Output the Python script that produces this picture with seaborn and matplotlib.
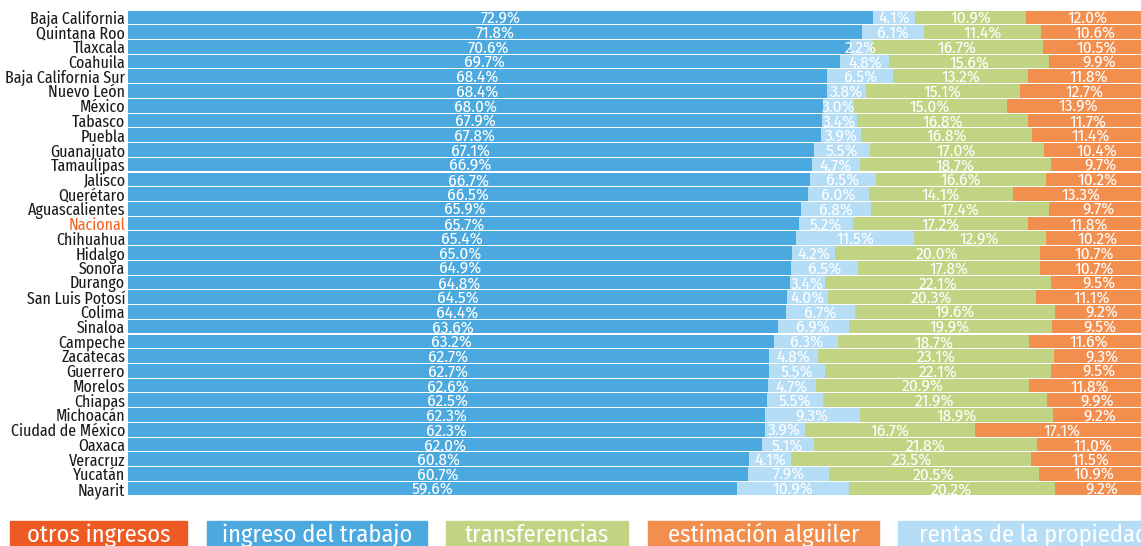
import matplotlib
matplotlib.use("Agg")
import matplotlib.pyplot as plt
import pandas as pd
import seaborn as sns
from matplotlib.patches import Rectangle

# 1. Data
states = ['Baja California', 'Quintana Roo', 'Tlaxcala', 'Coahuila', 'Baja California Sur',
          'Nuevo León', 'México', 'Tabasco', 'Puebla', 'Guanajuato', 'Tamaulipas', 'Jalisco',
          'Querétaro', 'Aguascalientes', 'Nacional', 'Chihuahua', 'Hidalgo', 'Sonora', 'Durango',
          'San Luis Potosí', 'Colima', 'Sinaloa', 'Campeche', 'Zacatecas', 'Guerrero', 'Morelos',
          'Chiapas', 'Michoacán', 'Ciudad de México', 'Oaxaca', 'Veracruz', 'Yucatán', 'Nayarit']

trabajo = [72.9, 71.8, 70.6, 69.7, 68.4, 68.4, 68.0, 67.9, 67.8, 67.1, 66.9, 66.7, 66.5, 65.9,
           65.7, 65.4, 65.0, 64.9, 64.8, 64.5, 64.4, 63.6, 63.2, 62.7, 62.7, 62.6, 62.5, 62.3,
           62.3, 62.0, 60.8, 60.7, 59.6]
rentas = [4.1, 6.1, 2.2, 4.8, 6.5, 3.8, 3.0, 3.4, 3.9, 5.5, 4.7, 6.5, 6.0, 6.8, 5.2, 11.5, 4.2,
          6.5, 3.4, 4.0, 6.7, 6.9, 6.3, 4.8, 5.5, 4.7, 5.5, 9.3, 3.9, 5.1, 4.1, 7.9, 10.9]
transferencias = [10.9, 11.4, 16.7, 15.6, 13.2, 15.1, 15.0, 16.8, 16.8, 17.0, 18.7, 16.6, 14.1,
                  17.4, 17.2, 12.9, 20.0, 17.8, 22.1, 20.3, 19.6, 19.9, 18.7, 23.1, 22.1, 20.9,
                  21.9, 18.9, 16.7, 21.8, 23.5, 20.5, 20.2]
alquiler = [12.0, 10.6, 10.5, 9.9, 11.8, 12.7, 13.9, 11.7, 11.4, 10.4, 9.7, 10.2, 13.3, 9.7, 11.8,
            10.2, 10.7, 10.7, 9.5, 11.1, 9.2, 9.5, 11.6, 9.3, 9.5, 11.8, 9.9, 9.2, 17.1, 11.0,
            11.5, 10.9, 9.2]

legend_labels = ['otros ingresos', 'ingreso del trabajo', 'transferencias',
                 'estimación alguiler', 'rentas de la propiedad']

colors = {
    'otros': '#EE5A24',
    'trabajo': '#4BA9DF',
    'rentas': '#B5DDF6',
    'transferencias': '#C0D483',
    'alquiler': '#F28E4E',
}

df = pd.DataFrame({'estado': states, 'trabajo': trabajo, 'rentas': rentas,
                   'transferencias': transferencias, 'alquiler': alquiler})
parts = ['trabajo', 'rentas', 'transferencias', 'alquiler']
cum = df[parts].cumsum(axis=1)
starts = cum - df[parts]

# 2. Plot
sns.set_style("white")
plt.rcParams['font.family'] = ['Fira Sans Condensed', 'DejaVu Sans']
narrow = ['Fira Sans Extra Condensed', 'Fira Sans Condensed', 'DejaVu Sans']

fig = plt.figure(figsize=(11.41, 5.46), dpi=100)
ax = fig.add_axes([128 / 1141, 50 / 546, 1022 / 1141, 486 / 546])

# layered cumulative bars, largest first
for part in reversed(parts):
    sns.barplot(x=cum[part], y=df['estado'], orient='h', color=colors[part],
                width=0.93, saturation=1, ax=ax, linewidth=0)

for i in range(len(df)):
    for part in parts:
        v = df.loc[i, part]
        x = starts.loc[i, part] + v / 2
        ax.text(x, i + 0.08, f'{v:.1f}%', ha='center', va='center', color='white', fontsize=12.5)

ax.set_xlim(0, 100)
ax.set_ylim(len(df) - 0.5, -0.5)
ax.set_xlabel('')
ax.set_ylabel('')
ax.set_xticks([])
sns.despine(ax=ax, left=True, bottom=True)
ax.tick_params(axis='y', length=0, pad=2)
for lbl in ax.get_yticklabels():
    lbl.set_family(narrow)
    lbl.set_fontsize(12.5)
    lbl.set_color('#F26522' if lbl.get_text() == 'Nacional' else '#1a1a1a')

# legend boxes along the bottom
boxes = [(10, 187), (207, 427), (446, 628), (648, 879), (898, 1170)]
box_colors = [colors['otros'], colors['trabajo'], colors['transferencias'],
              colors['alquiler'], colors['rentas']]
for (x0, x1), c, t in zip(boxes, box_colors, legend_labels):
    fig.patches.append(Rectangle((x0 / 1141, 0), (x1 - x0) / 1141, 25 / 546,
                                 transform=fig.transFigure, color=c, zorder=1))
    fig.text((x0 + x1) / 2 / 1141, 11 / 546, t, ha='center', va='center',
             color='white', fontsize=17.5, zorder=2)

fig.savefig('out.png', dpi=100)
